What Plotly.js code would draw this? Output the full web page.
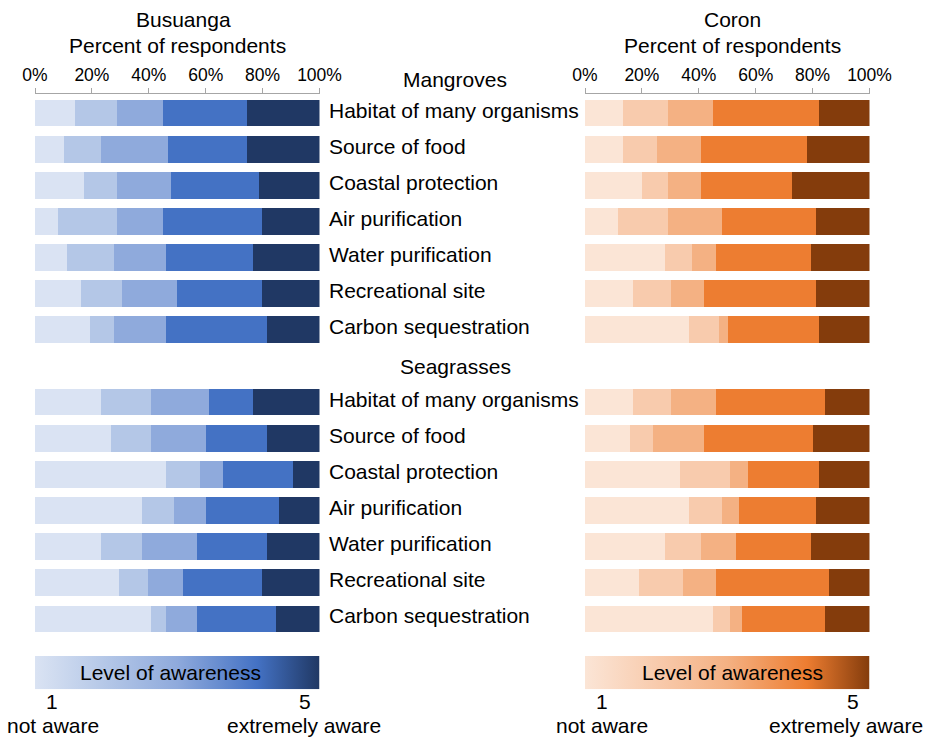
<!DOCTYPE html>
<html>
<head>
<meta charset="utf-8">
<script src="https://cdn.plot.ly/plotly-3.0.1.min.js"></script>
<style>html,body{margin:0;padding:0;background:#fff;}#chart{width:931px;height:740px;}</style>
</head>
<body>
<div id="chart"></div>
<script>
const categories = ["Habitat of many organisms","Source of food","Coastal protection","Air purification","Water purification","Recreational site","Carbon sequestration"];
const groups = ["Mangroves","Seagrasses"];
const sites = ["Busuanga","Coron"];
const levels = ["1","2","3","4","5"];
const tickVals = [0,20,40,60,80,100];
const tickLabels = ["0%","20%","40%","60%","80%","100%"];

// percent of respondents per awareness level 1..5, one row per category
const busuangaMangroves = [
  [14.2,14.5,16.2,29.6,25.5],
  [10.2,13.1,23.6,27.6,25.5],
  [17.2,11.5,19.2,30.7,21.4],
  [8.1,20.6,16.2,34.8,20.3],
  [11.1,16.6,18.2,30.7,23.4],
  [16.2,14.5,19.2,29.8,20.3],
  [19.3,8.4,18.2,35.8,18.3]
];
const busuangaSeagrasses = [
  [23.3,17.5,20.4,15.4,23.4],
  [26.6,14.2,19.3,21.6,18.3],
  [45.9,12.2,8.1,24.6,9.2],
  [37.7,11.2,11.2,25.7,14.2],
  [23.3,14.4,19.3,24.7,18.3],
  [29.6,10.2,12.2,27.7,20.3],
  [40.8,5.1,11.1,27.7,15.3]
];
const coronMangroves = [
  [13.5,15.7,15.7,37.4,17.7],
  [13.5,11.8,15.4,37.5,21.8],
  [19.9,9.3,11.5,32.1,27.2],
  [11.5,17.7,18.9,33.2,18.7],
  [28.2,9.4,8.4,33.3,20.7],
  [16.8,13.4,11.6,39.5,18.7],
  [36.6,10.4,3.2,32.1,17.7]
];
const coronSeagrasses = [
  [16.8,13.4,15.8,38.5,15.5],
  [15.8,8.1,17.9,38.5,19.7],
  [33.4,17.7,6.3,24.9,17.7],
  [36.6,11.5,6.1,27.1,18.7],
  [28.2,12.5,12.4,26.2,20.7],
  [18.9,15.5,11.6,39.6,14.4],
  [44.9,6.2,4.2,29.2,15.5]
];

const bluePalette = ["#DAE3F3","#B4C7E7","#8FAADC","#4472C4","#203864"];
const orangePalette = ["#FBE5D6","#F8CBAD","#F4B183","#ED7D31","#843C0C"];

const FONT = "Liberation Sans, Arial, sans-serif";
const W = 931, H = 740;
const px = v => v / W;
const py = v => 1 - v / H;

// slot positions: header slot 0, mangroves 1..7, header slot 8, seagrasses 9..15
const mangrovePos = categories.map((c, i) => i + 1);
const seagrassPos = categories.map((c, i) => i + 9);
const allPos = mangrovePos.concat(seagrassPos);

const traces = [];
function addPanel(mang, sea, palette, xa) {
  levels.forEach((lv, j) => {
    traces.push({
      type: "bar", orientation: "h",
      x: mang.map(r => r[j]).concat(sea.map(r => r[j])),
      y: allPos,
      xaxis: xa, yaxis: "y",
      width: 0.74,
      marker: {color: palette[j], line: {width: 0}},
      name: lv, showlegend: false, hoverinfo: "x"
    });
  });
}
addPanel(busuangaMangroves, busuangaSeagrasses, bluePalette, "x");
addPanel(coronMangroves, coronSeagrasses, orangePalette, "x2");

function gradientBar(palette, xa) {
  return {
    type: "scatter", mode: "lines",
    x: [0, 100, 100, 0, 0], y: [0, 0, 1, 1, 0],
    xaxis: xa, yaxis: "y2",
    fill: "toself",
    fillgradient: {type: "horizontal", colorscale: [[0, palette[0]], [0.25, palette[1]], [0.5, palette[2]], [0.78, palette[3]], [1, palette[4]]]},
    line: {width: 0, color: "rgba(0,0,0,0)"},
    showlegend: false, hoverinfo: "skip"
  };
}
traces.push(gradientBar(bluePalette, "x"));
traces.push(gradientBar(orangePalette, "x2"));

const xAxisBase = {
  range: [0, 100], side: "top", anchor: "y",
  tickvals: tickVals, ticktext: tickLabels,
  showline: true, linecolor: "#A6A6A6", linewidth: 1,
  ticks: "outside", ticklen: 5, tickcolor: "#A6A6A6", tickwidth: 1,
  showgrid: false, zeroline: false, fixedrange: true,
  tickfont: {family: FONT, size: 17.5, color: "#000"}
};

const annotations = [];
function ann(text, x, y, opts) {
  annotations.push(Object.assign({
    text: text, xref: "paper", yref: "paper", x: px(x), y: py(y),
    xanchor: "center", yanchor: "middle", showarrow: false,
    font: {family: FONT, size: 21, color: "#000"}
  }, opts || {}));
}
ann(sites[0], 183, 20);
ann("Percent of respondents", 177, 45);
ann(sites[1], 732, 20);
ann("Percent of respondents", 732, 45);
ann(groups[0], 455, 79);
ann(groups[1], 455, 367);
categories.forEach((c, i) => {
  [mangrovePos[i], seagrassPos[i]].forEach(pos => {
    annotations.push({text: c, xref: "paper", yref: "y", x: px(327), y: pos, yshift: 3, xanchor: "left", yanchor: "middle", showarrow: false, font: {family: FONT, size: 21, color: "#000"}});
  });
});
ann("Level of awareness", 170, 672);
ann("Level of awareness", 732, 672);
ann(levels[0], 52, 701);
ann(levels[4], 305, 701);
ann(levels[0], 602, 701);
ann(levels[4], 853, 701);
ann("not aware", 53, 725);
ann("extremely aware", 304, 725);
ann("not aware", 602, 725);
ann("extremely aware", 846, 725);

const layout = {
  width: W, height: H,
  margin: {l: 0, r: 0, t: 0, b: 0},
  paper_bgcolor: "#fff", plot_bgcolor: "rgba(0,0,0,0)",
  barmode: "stack", bargap: 0,
  showlegend: false,
  xaxis: Object.assign({}, xAxisBase, {domain: [px(35), px(319.5)]}),
  xaxis2: Object.assign({}, xAxisBase, {domain: [px(585), px(869.5)]}),
  yaxis: {range: [15.5, 0.474], domain: [py(637), py(94)], visible: false, fixedrange: true, anchor: "x"},
  yaxis2: {range: [0, 1], domain: [py(689.3), py(656)], visible: false, fixedrange: true, anchor: "x"},
  annotations: annotations,
  font: {family: FONT, color: "#000"}
};

Plotly.newPlot("chart", traces, layout, {displayModeBar: false, staticPlot: true});
</script>
</body>
</html>
